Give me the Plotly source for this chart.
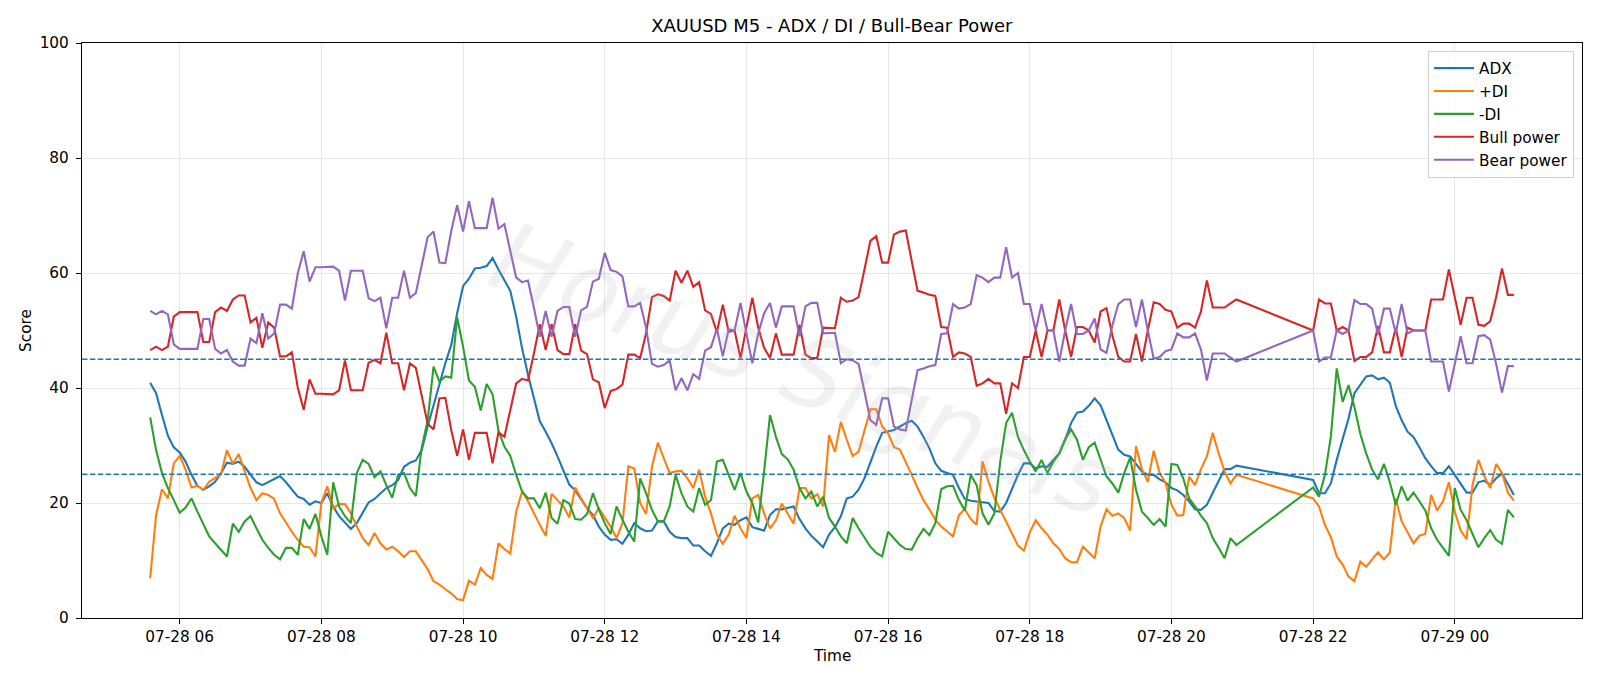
import pandas as pd
import plotly.graph_objects as go

# ---- time axis (M5 bars, trading break 21:00-22:00) ----
session1_start, session1_end = "2025-07-28 05:35", "2025-07-28 20:55"
session2_start, session2_end = "2025-07-28 22:00", "2025-07-29 00:50"
times = list(pd.date_range(session1_start, session1_end, freq="5min")) + \
        list(pd.date_range(session2_start, session2_end, freq="5min"))

# ---- series values ----
adx = [
    40.9, 39.1, 35.3, 31.7, 29.7, 28.8, 27.2, 24.9, 23.0, 22.3, 22.9, 23.7, 25.2, 27.0, 26.8, 27.2, 26.3, 24.9, 23.6, 23.1,
    23.6, 24.1, 24.7, 23.6, 22.3, 21.1, 20.7, 19.7, 20.3, 20.0,
    21.7, 19.4, 17.7, 16.5, 15.5, 16.5, 18.3, 20.1, 20.7, 21.7, 22.6, 23.1, 24.0, 26.3, 27.0, 27.4, 29.2, 33.3, 37.0, 40.8,
    44.3, 47.5, 53.0, 57.7, 59.0, 60.8, 60.9, 61.2,
    62.6, 60.6, 58.7, 56.9, 52.4, 46.9, 42.3, 38.2, 34.2, 32.4, 30.4, 28.1, 25.5, 23.2, 22.2, 20.6, 19.1, 17.9, 15.9, 14.5,
    13.6, 13.7, 12.9, 14.5, 16.5, 15.6, 15.1, 15.2, 16.8,
    16.8, 15.0, 14.1, 13.9, 13.9, 12.6, 12.6, 11.6, 10.8, 13.0, 15.6, 16.4, 16.2, 17.0, 17.5, 15.8, 15.5, 15.2, 17.9, 18.9,
    18.9, 19.1, 19.4, 17.2, 15.6, 14.3, 13.3, 12.3, 14.5,
    15.8, 17.7, 20.8, 21.1, 22.3, 24.3, 27.2, 29.8, 32.2, 32.4, 32.7, 33.3, 33.9, 34.3, 33.3, 31.5, 29.5, 26.9, 25.6, 25.2,
    24.9, 22.6, 20.7, 20.4, 20.3, 20.1, 20.0, 18.6,
    18.5, 20.0, 22.6, 24.9, 26.9, 26.9, 26.0, 26.4, 26.3, 27.5, 28.6, 31.0, 33.9, 35.7, 35.9, 36.9, 38.2, 37.0, 34.4, 31.8,
    29.3, 28.4, 28.1, 26.8, 25.5, 24.9, 24.9, 24.1, 23.6,
    22.6, 22.2, 21.4, 20.3, 18.9, 18.8, 19.7, 21.8, 23.9, 25.9, 25.9, 26.5,
    24.0, 21.7, 21.7, 23.4, 27.5, 31.0, 34.7, 39.1, 40.5, 42.0, 42.2, 41.5, 41.8, 40.9, 36.9, 34.4, 32.4, 31.5, 29.7, 27.8,
    26.4, 25.2, 25.2, 26.4, 24.9, 23.3, 21.8, 21.8, 23.6, 23.9, 23.1, 24.3, 25.1, 23.3, 21.4,
]
plus_di = [
    6.9, 17.9, 22.4, 20.8, 26.9, 28.2, 25.8, 22.7, 23.0, 22.3, 23.7, 24.3, 25.0, 29.2, 26.8, 28.5, 25.5, 22.6, 20.5, 21.7,
    21.4, 20.7, 18.2, 16.5, 15.0, 13.6, 12.4, 12.3, 10.7, 20.0,
    22.9, 19.1, 19.8, 19.8, 18.2, 15.9, 13.9, 12.7, 14.8, 13.0, 11.9, 12.4, 11.6, 10.6, 11.6, 11.6, 10.1, 8.5, 6.4, 5.8,
    5.0, 4.3, 3.3, 3.1, 6.5, 5.8, 8.7, 7.5,
    6.8, 13.0, 12.0, 11.2, 18.5, 22.0, 20.3, 18.1, 16.2, 14.3, 21.6, 20.5, 19.4, 17.5, 22.7, 20.8, 19.1, 17.4, 19.1, 17.4,
    15.9, 13.9, 16.5, 26.4, 26.0, 20.0, 18.1, 26.3, 30.5,
    27.8, 25.2, 25.5, 25.6, 24.3, 22.6, 25.8, 21.1, 18.2, 14.5, 12.9, 14.5, 17.8, 15.6, 13.9, 20.8, 21.4, 18.2, 15.6, 17.0,
    19.9, 18.2, 16.4, 22.6, 22.6, 20.8, 21.5, 19.4, 31.8,
    28.9, 34.1, 31.0, 28.2, 28.9, 32.7, 36.3, 36.3, 33.3, 32.1, 29.7, 29.3, 27.2, 24.9, 22.6, 20.5, 18.9, 17.1, 15.9, 15.0,
    14.2, 17.9, 18.9, 17.2, 16.2, 27.2, 23.7, 20.9,
    18.8, 16.6, 14.5, 12.6, 11.7, 14.9, 17.0, 15.6, 14.5, 13.0, 12.0, 10.4, 9.7, 9.7, 12.4, 11.4, 10.4, 15.9, 18.9, 17.8,
    18.2, 17.4, 15.2, 29.9, 25.9, 23.7, 29.1, 25.2, 23.5,
    19.7, 17.8, 17.9, 24.6, 23.1, 25.9, 28.1, 32.2, 28.6, 25.5, 23.4, 24.9,
    20.8, 19.4, 16.2, 14.1, 10.7, 9.3, 7.2, 6.4, 9.8, 8.9, 10.2, 11.4, 10.2, 11.4, 20.8, 16.8, 14.9, 13.0, 14.3, 14.6,
    21.4, 18.7, 20.3, 23.6, 18.5, 15.2, 13.7, 23.1, 27.5, 24.7, 22.6, 26.8, 25.2, 21.8, 20.4,
]
minus_di = [
    34.9, 29.2, 25.2, 22.6, 20.5, 18.3, 19.2, 20.8, 18.5, 16.2, 14.2, 13.0, 11.9, 10.7, 16.4, 15.0, 16.8, 17.7, 15.6, 13.6,
    12.2, 11.0, 10.2, 12.2, 12.2, 11.0, 17.2, 15.5, 18.1, 14.2,
    11.0, 23.6, 19.4, 17.7, 16.5, 25.2, 27.5, 26.8, 24.5, 25.5, 23.1, 20.9, 24.9, 25.2, 22.6, 21.2, 29.7, 34.3, 43.7, 41.1,
    42.0, 41.8, 52.3, 47.2, 41.3, 40.2, 36.1, 40.7,
    38.9, 32.6, 29.8, 28.2, 24.9, 22.0, 20.8, 20.8, 19.1, 21.8, 17.4, 16.4, 20.5, 19.9, 17.2, 17.1, 18.1, 21.7, 18.9, 16.5,
    14.6, 19.4, 17.1, 15.0, 13.3, 24.3, 21.7, 18.8, 16.8,
    16.8, 19.4, 24.9, 21.7, 19.4, 18.5, 22.6, 19.7, 20.5, 27.2, 27.5, 24.9, 22.3, 25.2, 22.0, 20.0, 16.6, 25.5, 35.3, 31.5,
    28.5, 27.6, 25.8, 22.6, 20.8, 22.0, 19.4, 21.1, 17.4,
    15.9, 14.2, 13.0, 17.4, 15.6, 13.9, 12.4, 11.3, 10.7, 15.0, 13.9, 12.7, 12.0, 11.9, 13.9, 15.5, 14.4, 16.5, 22.4, 22.9,
    23.0, 20.5, 18.7, 24.9, 23.1, 18.2, 16.2, 18.2,
    27.2, 33.9, 35.7, 31.5, 29.2, 27.2, 25.5, 27.5, 25.2, 27.2, 28.6, 31.1, 32.8, 31.0, 27.5, 29.7, 30.5, 27.5, 24.6, 23.4,
    21.8, 25.2, 27.9, 22.3, 18.5, 17.4, 16.2, 17.2, 15.9,
    26.8, 26.6, 24.3, 20.8, 19.4, 17.8, 16.5, 13.9, 12.2, 10.4, 13.9, 12.7,
    22.7, 21.1, 24.9, 31.5, 43.4, 37.6, 40.5, 36.7, 32.0, 28.6, 25.8, 24.1, 26.8, 23.6, 19.7, 22.9, 20.4, 21.8, 20.3, 18.7,
    15.6, 13.6, 12.2, 10.8, 22.6, 18.8, 17.0, 14.5, 12.3, 13.9, 15.3, 13.6, 12.9, 18.8, 17.5,
]
bull_power = [
    46.6, 47.2, 46.6, 47.2, 52.4, 53.2, 53.2, 53.2, 53.2, 48.0, 48.0, 53.2, 54.0, 53.4, 55.4, 56.1, 56.1, 51.4, 52.2, 47.0,
    51.4, 50.5, 45.5, 45.5, 46.2, 40.1, 36.2, 41.5, 39.0, 39.0,
    38.9, 38.9, 39.6, 44.8, 39.6, 39.6, 39.6, 44.4, 44.9, 44.3, 49.6, 44.3, 44.3, 39.6, 44.3, 43.5, 38.8, 33.8, 32.8, 38.2,
    38.3, 32.7, 28.2, 32.8, 27.5, 32.2, 32.2, 32.2,
    26.9, 32.3, 31.5, 36.1, 40.8, 41.6, 41.3, 46.0, 51.1, 46.6, 51.1, 46.6, 45.9, 45.9, 51.1, 46.5, 45.9, 41.5, 41.0, 36.5,
    39.5, 39.8, 40.6, 45.8, 45.8, 45.2, 49.5, 55.8, 56.3,
    56.0, 55.2, 60.4, 58.3, 60.4, 57.6, 58.4, 53.5, 52.9, 49.7, 54.5, 49.8, 50.0, 45.2, 50.5, 55.7, 50.5, 47.0, 45.2, 49.5,
    45.8, 45.8, 45.8, 51.0, 45.8, 45.2, 45.2, 50.5, 50.5,
    50.4, 55.7, 55.0, 55.2, 55.8, 60.6, 65.6, 66.4, 61.8, 61.8, 66.7, 67.2, 67.4, 62.1, 56.9, 56.6, 56.2, 56.0, 50.6, 50.5,
    45.4, 46.2, 46.0, 45.4, 40.4, 40.8, 41.6, 40.8,
    40.8, 35.5, 40.8, 40.0, 45.4, 45.4, 50.0, 45.4, 50.0, 50.0, 55.4, 50.0, 45.4, 50.6, 50.6, 50.0, 47.9, 53.3, 53.9, 49.1,
    45.4, 44.6, 44.6, 49.4, 44.6, 50.0, 54.9, 54.6, 53.6,
    53.3, 50.5, 51.2, 51.2, 50.5, 53.3, 58.7, 54.0, 54.0, 54.0, 54.7, 55.4,
    50.0, 55.4, 54.7, 54.7, 50.0, 50.6, 50.0, 44.7, 45.4, 45.4, 46.2, 50.8, 46.2, 46.2, 50.5, 45.4, 50.5, 50.0, 50.0, 50.0,
    55.4, 55.4, 55.4, 60.6, 55.8, 51.0, 55.7, 55.7, 51.0, 50.8, 51.6, 55.8, 60.8, 56.2, 56.2,
]
bear_power = [
    53.4, 52.8, 53.4, 52.8, 47.6, 46.8, 46.8, 46.8, 46.8, 52.0, 52.0, 46.8, 46.0, 46.6, 44.6, 43.9, 43.9, 48.6, 47.8, 53.0,
    48.6, 49.5, 54.5, 54.5, 53.8, 59.9, 63.8, 58.5, 61.0, 61.0,
    61.1, 61.1, 60.4, 55.2, 60.4, 60.4, 60.4, 55.6, 55.1, 55.7, 50.4, 55.7, 55.7, 60.4, 55.7, 56.5, 61.2, 66.2, 67.2, 61.8,
    61.7, 67.3, 71.8, 67.2, 72.5, 67.8, 67.8, 67.8,
    73.1, 67.7, 68.5, 63.9, 59.2, 58.4, 58.7, 54.0, 48.9, 53.4, 48.9, 53.4, 54.1, 54.1, 48.9, 53.5, 54.1, 58.5, 59.0, 63.5,
    60.5, 60.2, 59.4, 54.2, 54.2, 54.8, 50.5, 44.2, 43.7,
    44.0, 44.8, 39.6, 41.7, 39.6, 42.4, 41.6, 46.5, 47.1, 50.3, 45.5, 50.2, 50.0, 54.8, 49.5, 44.3, 49.5, 53.0, 54.8, 50.5,
    54.2, 54.2, 54.2, 49.0, 54.2, 54.8, 54.8, 49.5, 49.5,
    49.6, 44.3, 45.0, 44.8, 44.2, 39.4, 34.4, 33.6, 38.2, 38.2, 33.3, 32.8, 32.6, 37.9, 43.1, 43.4, 43.8, 44.0, 49.4, 49.5,
    54.6, 53.8, 54.0, 54.6, 59.6, 59.2, 58.4, 59.2,
    59.2, 64.5, 59.2, 60.0, 54.6, 54.6, 50.0, 54.6, 50.0, 50.0, 44.6, 50.0, 54.6, 49.4, 49.4, 50.0, 52.1, 46.7, 46.1, 50.9,
    54.6, 55.4, 55.4, 50.6, 55.4, 50.0, 45.1, 45.4, 46.4,
    46.7, 49.5, 48.8, 48.8, 49.5, 46.7, 41.3, 46.0, 46.0, 46.0, 45.3, 44.6,
    50.0, 44.6, 45.3, 45.3, 50.0, 49.4, 50.0, 55.3, 54.6, 54.6, 53.8, 49.2, 53.8, 53.8, 49.5, 54.6, 49.5, 50.0, 50.0, 50.0,
    44.6, 44.6, 44.6, 39.4, 44.2, 49.0, 44.3, 44.3, 49.0, 49.2, 48.4, 44.2, 39.2, 43.8, 43.8,
]
threshold_levels = [45, 25]

series_names = ["ADX", "+DI", "-DI", "Bull power", "Bear power"]
series_values = [adx, plus_di, minus_di, bull_power, bear_power]
series_colors = ["#1f77b4", "#ff7f0e", "#2ca02c", "#d62728", "#9467bd"]

FONT = "DejaVu Sans"
FS = 15.3

fig = go.Figure()
for name, vals, col in zip(series_names, series_values, series_colors):
    fig.add_trace(go.Scatter(x=times, y=vals, mode="lines", name=name,
                             line=dict(color=col, width=2.1)))

for lvl in threshold_levels:
    fig.add_shape(type="line", xref="paper", x0=0, x1=1, yref="y", y0=lvl, y1=lvl,
                  line=dict(color="#1f77b4", width=1.5, dash="5.5px,2.4px"))

# x-range with 5% margins like matplotlib
t0, t1 = times[0], times[-1]
span = t1 - t0
xr = [t0 - span * 0.05, t1 + span * 0.05]

axis_common = dict(showline=True, mirror=True, linecolor="black", linewidth=1.2,
                   ticks="outside", ticklen=5, tickwidth=1.2, tickcolor="black",
                   showgrid=True, gridcolor="#e6e6e6", gridwidth=1.1, zeroline=False,
                   tickfont=dict(family=FONT, size=FS, color="black"))

fig.update_layout(
    width=1600, height=686,
    margin=dict(l=82, r=18, t=43, b=68),
    paper_bgcolor="white", plot_bgcolor="white",
    font=dict(family=FONT, color="black"),
    title=dict(text="XAUUSD M5 - ADX / DI / Bull-Bear Power", x=(81.6 + 1582) / 2 / 1600,
               xanchor="center", y=1 - 25.5 / 686, yanchor="middle", yref="container",
               font=dict(family=FONT, size=18, color="black")),
    xaxis=dict(range=xr, type="date", tick0="2025-07-28 00:00", dtick=2 * 3600 * 1000,
               tickformat="%m-%d %H", **axis_common),
    yaxis=dict(range=[0, 100], tickvals=[0, 20, 40, 60, 80, 100], ticklabelstandoff=4,
               **axis_common),
    legend=dict(x=(1574 - 81.6) / 1500.4, xanchor="right", y=(618.5 - 50.7) / 575.5, yanchor="top",
                bgcolor="rgba(255,255,255,0.8)", bordercolor="#d0d0d0", borderwidth=1,
                itemwidth=40, font=dict(family=FONT, size=FS, color="black")),
    showlegend=True,
)

fig.add_annotation(text="Time", xref="paper", yref="paper", x=0.5, y=0, yshift=-37.5,
                   showarrow=False, yanchor="middle", font=dict(family=FONT, size=FS))
fig.add_annotation(text="Score", xref="paper", yref="paper", x=0, y=0.5, xshift=-56.6,
                   showarrow=False, textangle=-90, xanchor="center",
                   font=dict(family=FONT, size=FS))
# watermark
fig.add_annotation(text="Horus Signals", xref="paper", yref="paper",
                   x=(803 - 81.6) / 1500.4, y=(618.5 - 370) / 575.5, showarrow=False,
                   textangle=21, xanchor="center", yanchor="middle",
                   font=dict(family=FONT, size=96, style="italic",
                             color="rgba(170,170,170,0.16)"))

fig.write_html("out.html")
